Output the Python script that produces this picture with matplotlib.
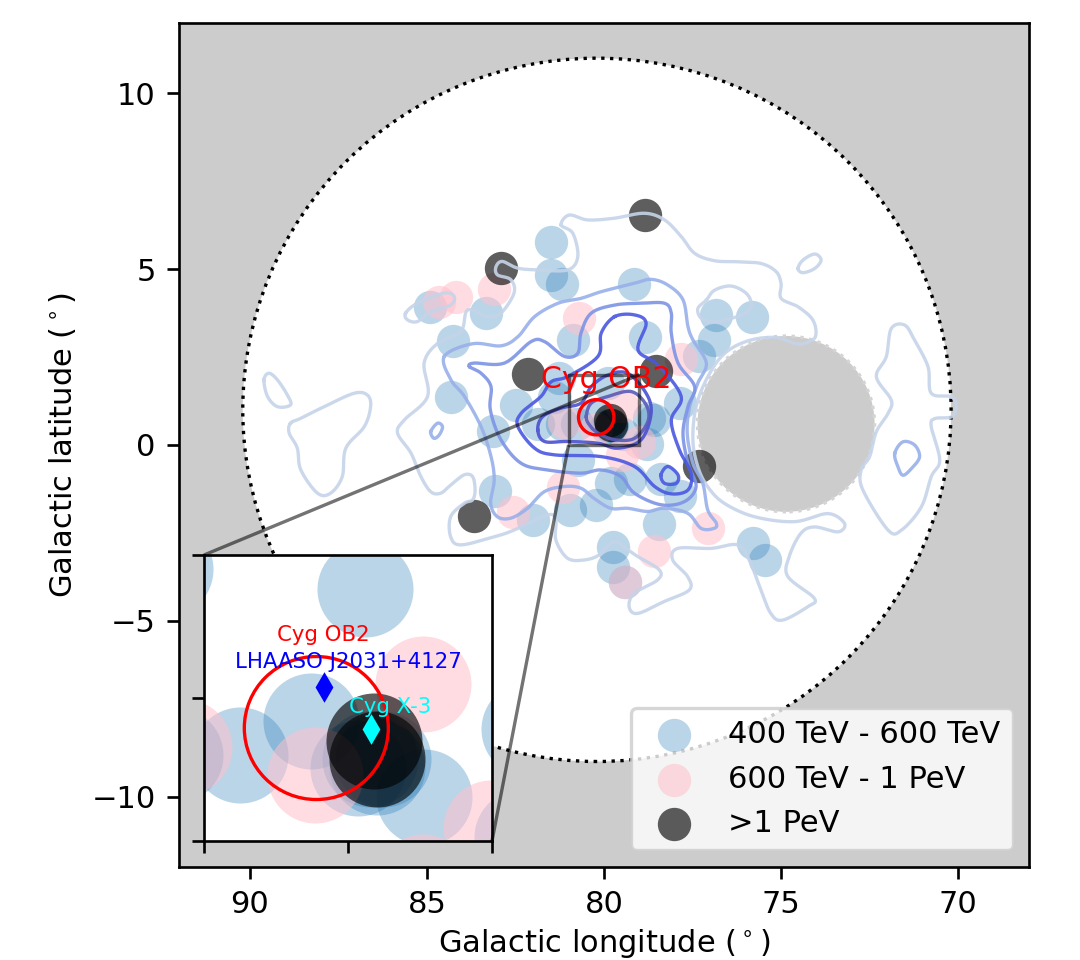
import numpy as np
import matplotlib
matplotlib.use('Agg')
import matplotlib.pyplot as plt
from matplotlib.patches import Circle
from mpl_toolkits.axes_grid1.inset_locator import mark_inset

plt.rcParams['font.size'] = 9.15

# photon arrival directions (l, b in degrees)
blue_l = [81.49, 81.49, 81.19, 79.16, 83.34, 84.90, 84.25, 80.88, 78.83, 76.83, 75.82, 76.90, 77.33,
          84.32, 82.49, 83.12, 81.87, 81.27, 81.20, 81.40, 79.88, 77.84, 78.74, 78.60, 78.79,
          80.75, 80.26, 79.93, 79.85, 79.80, 79.47, 79.76, 80.74, 79.79, 79.28, 78.39, 77.84, 83.08, 82.00,
          80.95, 80.22, 78.44, 79.75, 79.75, 75.80, 75.45, 79.40]
blue_b = [5.77, 4.83, 4.57, 4.58, 3.74, 3.91, 2.96, 3.00, 3.06, 3.69, 3.63, 3.00, 2.53,
          1.37, 1.13, 0.40, 0.59, 1.90, 0.60, 1.37, 1.76, 1.20, 0.78, 0.70, 0.03,
          0.60, 0.84, 0.51, 0.57, 0.52, 0.31, 0.57, -0.43, -1.09, -0.98, -0.98, -1.44, -1.31, -2.13,
          -1.85, -1.71, -2.25, -2.90, -3.47, -2.79, -3.27, -3.90]
pink_l = [84.65, 84.18, 83.10, 80.72, 77.82, 81.17, 82.58, 77.07, 79.48, 80.23, 81.14, 79.01, 79.48, 78.60, 79.40]
pink_b = [4.07, 4.20, 4.43, 3.60, 2.44, -1.19, -1.90, -2.37, 1.10, 0.46, 0.66, 0.09, -0.29, -3.00, -3.90]
dark_l = [82.14, 78.54, 78.85, 82.90, 83.67, 77.33, 79.82, 79.80]
dark_b = [2.02, 2.11, 6.55, 5.04, -2.01, -0.61, 0.70, 0.57]

# contour traces: lightest level
c1_main = [(81.21, 6.26), (80.98, 6.54), (80.46, 6.40), (79.70, 6.45), (78.86, 6.59), (78.29, 6.40), (77.82, 5.93),
           (77.44, 5.45), (76.88, 5.24), (76.22, 5.21), (75.56, 5.16), (75.14, 4.93), (75.00, 4.59), (75.00, 4.17),
           (74.52, 3.93), (74.10, 3.55), (74.03, 3.08), (74.34, 2.89), (74.62, 2.89), (75.18, 3.06), (75.94, 2.96),
           (76.60, 2.60), (77.07, 1.94), (77.40, 1.09), (77.49, 0.14), (77.35, -0.62), (77.07, -1.19), (76.60, -1.66),
           (75.75, -2.04), (74.62, -2.18), (73.68, -1.95), (73.21, -2.23), (73.39, -2.47), (74.05, -2.33), (74.44, -2.51),
           (74.77, -3.17), (74.81, -3.74), (74.06, -4.36), (74.25, -4.60), (74.96, -4.98), (75.29, -4.79), (75.57, -4.12),
           (75.90, -3.27), (76.23, -2.84), (76.98, -2.94), (77.92, -2.94), (78.06, -3.27), (77.64, -3.74), (77.59, -4.12),
           (78.30, -4.45), (79.05, -4.79), (79.29, -4.60), (79.15, -4.22), (78.49, -3.84), (78.44, -3.55), (79.05, -3.17),
           (79.33, -2.98), (79.71, -2.75), (80.14, -3.13), (80.56, -3.27), (81.03, -3.22), (81.36, -2.70), (81.36, -2.13),
           (81.60, -1.99), (82.54, -2.42), (83.10, -2.61), (84.04, -2.84), (84.33, -2.61), (84.33, -2.04), (83.95, -1.66),
           (83.71, -1.56), (83.64, -1.28), (83.71, -0.90), (83.95, -0.85), (84.33, -1.14), (84.61, -1.37), (84.89, -1.33),
           (85.17, -0.90), (85.45, -0.23), (85.83, 0.34), (85.64, 0.71), (84.98, 1.38), (85.08, 2.33), (84.70, 2.89),
           (84.04, 3.23), (83.85, 3.84), (83.29, 3.65), (82.91, 3.75), (82.54, 4.32), (82.63, 4.70), (83.01, 4.84),
           (83.05, 5.07), (82.87, 5.22), (82.44, 5.03), (81.87, 4.98), (81.02, 4.98), (80.74, 5.36), (80.88, 6.02)]
c1_pink = [(85.60, 3.75), (85.27, 4.03), (84.51, 4.32), (84.23, 4.22), (84.33, 3.98), (84.89, 3.79), (85.27, 3.51), (85.55, 3.56)]
c1_right = [(70.19, 1.37), (70.76, 1.47), (70.85, 2.22), (71.23, 2.98), (71.51, 3.41), (71.89, 3.31), (72.03, 2.51),
            (72.31, 1.94), (71.89, 1.28), (71.98, 0.90), (72.31, 0.38), (72.50, -0.33), (72.74, -0.71), (72.69, -1.28),
            (71.98, -2.42), (71.60, -2.42), (71.04, -1.76), (70.76, -0.90), (70.52, -0.43), (70.76, 0.52), (70.66, 0.75),
            (70.19, 0.80), (70.05, 1.09)]
c1_left_a = [(89.60, 1.85), (89.46, 2.04), (89.22, 1.85), (88.94, 1.42), (88.85, 1.14), (89.22, 1.09), (89.50, 1.38)]
c1_left_b = [(88.85, 0.62), (88.56, 0.76), (87.90, 1.09), (87.06, 1.47), (86.68, 1.42), (86.59, 1.09), (86.77, 0.52),
             (87.29, -0.09), (87.39, -0.90), (87.72, -1.37), (88.09, -1.37), (88.56, -0.71), (88.66, -0.09), (88.89, 0.34)]
c1_ellipse = [(74.52, 5.02), (74.38, 5.26), (74.05, 5.43), (73.87, 5.26), (74.05, 5.02), (74.38, 4.90)]
c1_arch = [(77.11, 4.12), (76.88, 4.40), (76.41, 4.52), (75.98, 4.31), (75.84, 3.98), (76.03, 3.74), (76.41, 3.60),
           (76.88, 3.50), (77.25, 3.60), (77.35, 3.88)]

c2_main = [(84.51, 2.52), (83.71, 2.88), (82.91, 2.82), (82.43, 3.08), (81.96, 3.65), (81.30, 4.03), (80.65, 4.17),
           (80.08, 4.36), (79.14, 4.60), (78.67, 4.71), (78.20, 4.55), (77.77, 4.13), (77.63, 3.37), (77.49, 2.99),
           (77.11, 2.33), (77.35, 1.76), (77.58, 1.09), (77.65, 0.33), (77.49, -0.52), (77.21, -1.09), (77.07, -1.85),
           (76.83, -2.22), (76.89, -2.37), (77.26, -2.37), (77.64, -1.94), (78.30, -1.80), (78.77, -1.89), (79.33, -1.80),
           (79.81, -1.80), (80.28, -1.52), (80.65, -1.23), (81.12, -1.18), (81.69, -1.33), (82.16, -1.80), (82.63, -2.08),
           (83.01, -2.04), (83.20, -1.66), (83.10, -0.99), (83.19, -0.33), (83.47, 0.52), (83.94, 1.38), (84.32, 1.85)]
c2_right = [(71.79, -0.24), (71.56, 0.09), (71.23, 0.00), (71.09, -0.34), (71.32, -0.67), (71.56, -0.86), (71.70, -0.62)]
c2_left = [(84.89, 0.38), (84.70, 0.62), (84.56, 0.52), (84.65, 0.29), (84.80, 0.19)]

c3_main = [(83.80, 2.23), (83.66, 2.33), (82.81, 2.33), (82.06, 2.94), (81.68, 2.94), (81.12, 2.52), (80.74, 2.61),
           (80.65, 3.18), (80.36, 3.75), (79.70, 3.98), (78.95, 4.03), (78.29, 4.03), (78.10, 3.75), (78.10, 3.18),
           (77.91, 2.33), (77.44, 1.66), (77.63, 1.09), (77.77, 0.33), (77.63, -0.52), (77.40, -1.18), (77.73, -1.61),
           (78.39, -1.70), (79.14, -1.37), (79.52, -0.90), (80.08, -0.71), (80.65, -0.80), (81.59, -0.71), (82.34, -0.52),
           (82.91, 0.15), (83.21, 1.00), (83.19, 1.66), (83.47, 2.04)]

c4_main = [(79.70, 3.65), (79.14, 3.70), (78.81, 3.46), (79.04, 2.70), (78.48, 2.28), (77.82, 1.38), (78.10, 0.71),
           (77.87, -0.14), (77.54, -0.80), (77.63, -1.28), (78.10, -1.39), (78.57, -1.18), (79.14, -0.61), (80.08, -0.33),
           (81.40, -0.28), (81.96, -0.09), (82.43, 0.52), (82.34, 0.90), (81.78, 1.38), (81.49, 1.80), (81.02, 1.95),
           (80.17, 2.52), (80.08, 3.18)]
c4_small = [(78.39, -0.85), (78.20, -0.61), (77.91, -0.85), (77.96, -1.09), (78.29, -1.09)]

c5_main = [(81.87, 0.43), (81.73, 0.81), (81.21, 1.05), (80.65, 1.19), (80.36, 1.66), (79.89, 1.99), (79.33, 2.04),
           (78.81, 1.47), (78.67, 0.90), (78.95, 0.15), (79.61, -0.09), (80.17, 0.05), (81.02, 0.10), (81.68, 0.10)]
c6_main = [(80.50, 0.81), (80.36, 1.19), (79.89, 1.38), (79.23, 1.52), (78.81, 1.14), (78.76, 0.67), (79.14, 0.19),
           (79.70, 0.15), (80.17, 0.34), (80.41, 0.57)]


def smooth(pts, n=8):
    # closed Catmull-Rom curve through the traced points
    p = np.array(pts)
    p0, p1, p2, p3 = np.roll(p, 1, axis=0), p, np.roll(p, -1, axis=0), np.roll(p, -2, axis=0)
    out = []
    for t in np.arange(n) / n:
        out.append(0.5 * (2 * p1 + (p2 - p0) * t + (2 * p0 - 5 * p1 + 4 * p2 - p3) * t ** 2
                          + (3 * p1 - p0 - 3 * p2 + p3) * t ** 3))
    c = np.stack(out, axis=1).reshape(-1, 2)
    return np.vstack([c, c[0]])


fig = plt.figure(figsize=(4.5, 4), dpi=240)
ax = fig.add_axes([179 / 1080, 1 - 867 / 960, 850 / 1080, 844 / 960], facecolor='#cccccc')
ax.set_xlim(92, 68)
ax.set_ylim(-12, 12)

ax.add_patch(Circle((80.2, 1.0), 10, fc='white', ec='black', ls=':', lw=1, zorder=1))
ax.add_patch(Circle((74.86, 0.6), 2.5, fc='#cccccc', ec='#d4d4d4', ls=':', lw=1, zorder=1.5))

ms = 100
ax.scatter(blue_l, blue_b, s=ms, c='tab:blue', alpha=0.3, lw=0, label='400 TeV - 600 TeV', zorder=2)
ax.scatter(pink_l, pink_b, s=ms, c='pink', alpha=0.55, lw=0, label='600 TeV - 1 PeV', zorder=2)
ax.scatter(dark_l, dark_b, s=ms, c='black', alpha=0.63, lw=0, label='>1 PeV', zorder=2)

levels = [
    ('#c6d4e9', [c1_main, c1_pink, c1_right, c1_left_a, c1_left_b, c1_ellipse, c1_arch]),
    ('#98b0ea', [c2_main, c2_right, c2_left]),
    ('#7d94e6', [c3_main]),
    ('#4a58e0', [c4_main, c4_small]),
    ('#4a50d0', [c5_main]),
    ('#5a5ab8', [c6_main]),
]
for col, loops in levels:
    for loop in loops:
        s = smooth(loop)
        ax.plot(s[:, 0], s[:, 1], color=col, lw=1, alpha=0.9, zorder=3)

ax.add_patch(Circle((80.22, 0.79), 0.5, fc='none', ec='red', lw=1, zorder=4))
ax.text(79.94, 1.85, 'Cyg OB2', color='red', fontsize=9, ha='center', va='center', zorder=5)

ax.set_xticks([90, 85, 80, 75, 70])
ax.set_yticks([10, 5, 0, -5, -10])
ax.set_xlabel(r'Galactic longitude ($^\circ$)', labelpad=2.2)
ax.set_ylabel(r'Galactic latitude ($^\circ$)')
ax.legend(loc='lower right', bbox_to_anchor=(0.981, 0.02), borderaxespad=0)

# zoomed view of the centre
axins = fig.add_axes([204 / 1080, 1 - 841 / 960, 288 / 1080, 286 / 960], facecolor='white')
ms_ins = 830
axins.scatter(blue_l, blue_b, s=ms_ins, c='tab:blue', alpha=0.3, lw=0)
axins.scatter(pink_l, pink_b, s=ms_ins, c='pink', alpha=0.55, lw=0)
axins.scatter(dark_l, dark_b, s=ms_ins, c='black', alpha=0.63, lw=0)
axins.set_xlim(81, 79)
axins.set_ylim(0, 2)
axins.add_patch(Circle((80.22, 0.79), 0.5, fc='none', ec='red', lw=1, zorder=4))
axins.plot([80.17], [1.08], 'd', color='blue', ms=5, zorder=5)
axins.plot([79.84], [0.785], 'd', color='cyan', ms=5, zorder=5)
axins.text(80.17, 1.44, 'Cyg OB2', color='red', fontsize=6.4, ha='center', va='center', zorder=5)
axins.text(80.00, 1.25, 'LHAASO J2031+4127', color='blue', fontsize=6.4, ha='center', va='center', zorder=5)
axins.text(79.71, 0.94, 'Cyg X-3', color='cyan', fontsize=6.4, ha='center', va='center', zorder=5)
axins.set_xticks([81, 80, 79])
axins.set_yticks([0, 1, 2])
axins.set_xticklabels([])
axins.set_yticklabels([])

mark_inset(ax, axins, loc1=2, loc2=4, fc='none', ec='black', alpha=0.55, lw=1, zorder=4)

fig.savefig('out.png', dpi=240)
